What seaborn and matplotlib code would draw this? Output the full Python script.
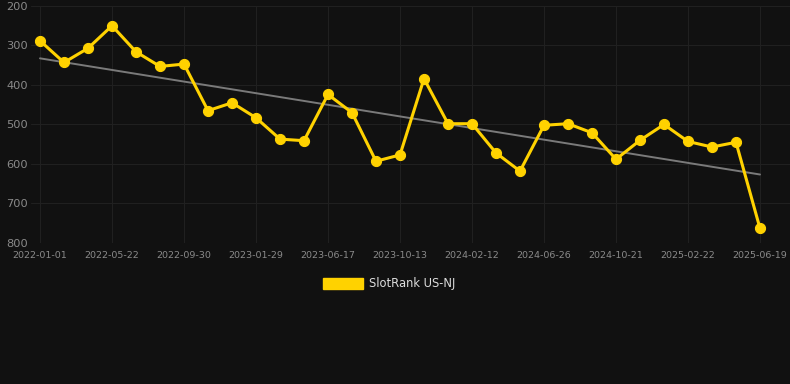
import matplotlib
matplotlib.use("Agg")
import matplotlib.pyplot as plt
from matplotlib.patches import Patch
import numpy as np
import pandas as pd
import seaborn as sns

# ==========================================================
# Data
# ==========================================================

TICK_DATES = [
    "2022-01-01", "2022-05-22", "2022-09-30", "2023-01-29",
    "2023-06-17", "2023-10-13", "2024-02-12", "2024-06-26",
    "2024-10-21", "2025-02-22", "2025-06-19",
]

RANK = [
    288, 343, 307, 250, 316, 353, 347, 465, 445, 483,
    537, 541, 424, 470, 593, 577, 384, 498, 498, 572,
    618, 502, 498, 521, 588, 540, 500, 543, 557, 545,
    763,
]

SERIES_NAME = "SlotRank US-NJ"

BG = "#111111"
GOLD = "#FFD200"

# ==========================================================
# Plot
# ==========================================================

sns.set_style("dark")
plt.rcParams["font.family"] = ["DejaVu Sans"]

df = pd.DataFrame({"idx": np.arange(len(RANK)), "rank": RANK})

fig = plt.figure(figsize=(7.9, 3.84), dpi=100, facecolor=BG)
ax = fig.add_axes([31 / 790, (384 - 243) / 384, 1 - 31 / 790, 237 / 384])
ax.set_facecolor(BG)

# trend line (least squares on the series)
slope, intercept = np.polyfit(df["idx"], df["rank"], 1)
df["trend"] = slope * df["idx"] + intercept
sns.lineplot(data=df, x="idx", y="trend", ax=ax, color="#7a7a7a",
             linewidth=1.4, zorder=2)

sns.lineplot(data=df, x="idx", y="rank", ax=ax, color=GOLD,
             linewidth=2.2, marker="o", markersize=7.3,
             markeredgecolor=GOLD, zorder=3)

ax.set_ylim(800, 200)
ax.set_xlim(-0.375, len(RANK) - 1 + 1.25)
ax.set_yticks([200, 300, 400, 500, 600, 700, 800])
ax.set_xticks(np.arange(0, len(RANK), 3))
ax.set_xticklabels(TICK_DATES)

ax.grid(True, color="#202020", linewidth=0.8)
ax.set_axisbelow(True)
for s in ax.spines.values():
    s.set_visible(False)

ax.tick_params(axis="y", length=0, pad=2, labelsize=8.2, labelcolor="#8a8a8a")
ax.tick_params(axis="x", length=0, pad=6, labelsize=6.8, labelcolor="#8a8a8a")
ax.set_xlabel("")
ax.set_ylabel("")

handle = Patch(facecolor=GOLD, edgecolor=GOLD)
fig.legend([handle], [SERIES_NAME], loc="center",
           bbox_to_anchor=(389 / 790, 1 - 284 / 384), frameon=False,
           fontsize=8.3, labelcolor="#dddddd", handlelength=3.5,
           handleheight=1.1, handletextpad=0.5)

fig.savefig("out.png", dpi=100, facecolor=BG)
